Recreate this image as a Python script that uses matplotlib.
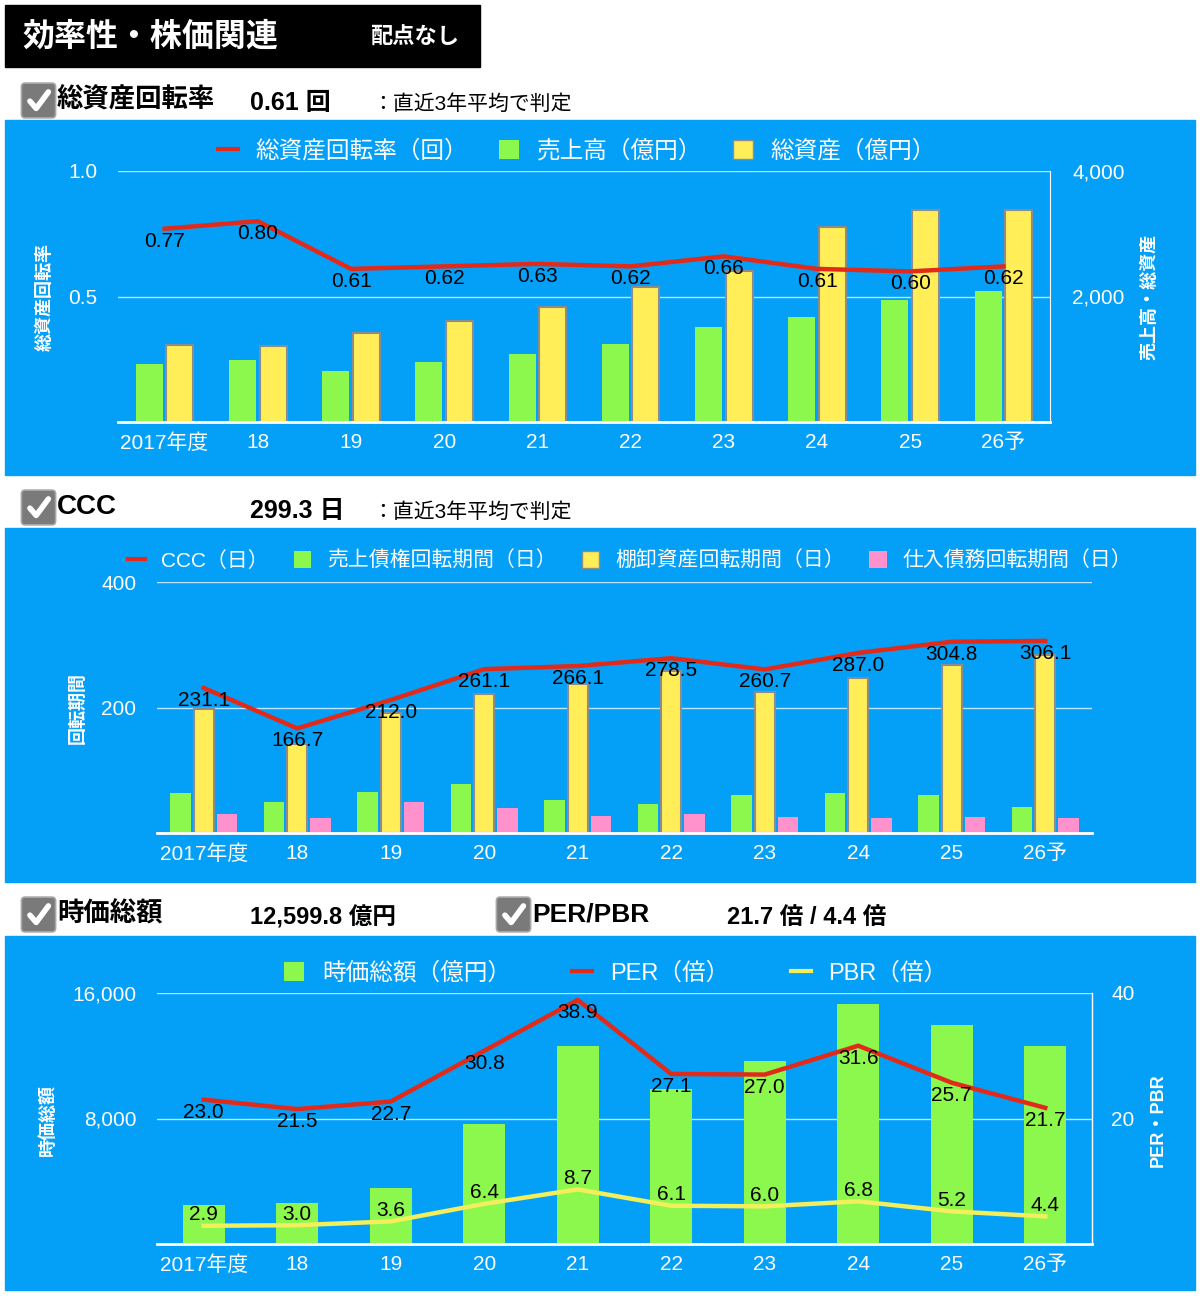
import matplotlib
matplotlib.use("Agg")
import matplotlib.pyplot as plt
import matplotlib.patches as mpatches
from matplotlib.lines import Line2D
import numpy as np

plt.rcParams['font.family'] = ['Liberation Sans', 'Noto Sans CJK JP', 'DejaVu Sans']

# ---- data ----
years = ["2017年度", "18", "19", "20", "21", "22", "23", "24", "25", "26予"]

turnover = [0.77, 0.80, 0.61, 0.62, 0.63, 0.62, 0.66, 0.61, 0.60, 0.62]
sales = [930, 995, 810, 950, 1090, 1245, 1510, 1680, 1950, 2090]
assets = [1230, 1215, 1415, 1615, 1840, 2145, 2405, 3105, 3375, 3385]

ccc = [231.1, 166.7, 212.0, 261.1, 266.1, 278.5, 260.7, 287.0, 304.8, 306.1]
recv_days = [63, 49, 66, 78, 53, 47, 60, 63, 61, 42]
inv_days = [198, 142, 192, 221, 238, 258, 224, 247, 267, 283]
pay_days = [31, 24, 49, 40, 27, 31, 25, 24, 25, 24]

mcap = [2500, 2620, 3580, 7620, 12640, 9880, 11660, 15280, 13990, 12600]
per = [23.0, 21.5, 22.7, 30.8, 38.9, 27.1, 27.0, 31.6, 25.7, 21.7]
pbr = [2.9, 3.0, 3.6, 6.4, 8.7, 6.1, 6.0, 6.8, 5.2, 4.4]

# ---- colors ----
BLUE = "#04A0F8"
GREEN = "#8CF84E"
YELLOW = "#FFEE58"
PINK = "#FF92CC"
RED = "#E22A1A"
PBR_YEL = "#F2EE5C"
EDGE = "#8C8C8C"

W, H = 1200, 1296
fig = plt.figure(figsize=(W / 100, H / 100), dpi=100)
fig.patch.set_facecolor("white")


def fx(x):
    return x / W


def fy(y):
    return 1 - y / H


def px_axes(x0, y0, x1, y1):
    return fig.add_axes([fx(x0), fy(y1), (x1 - x0) / W, (y1 - y0) / H])


def rect(x0, y0, x1, y1, color):
    fig.patches.append(mpatches.Rectangle((fx(x0), fy(y1)), (x1 - x0) / W, (y1 - y0) / H,
                                          transform=fig.transFigure, color=color, zorder=-5))


def checkbox(x0, y0, size=33):
    box = mpatches.FancyBboxPatch((fx(x0 + 3), fy(y0 + size - 3)), (size - 6) / W, (size - 6) / H,
                                  boxstyle="round,pad=0.003", transform=fig.transFigure,
                                  facecolor="#7A7A7A", edgecolor="#A8A8A8", lw=1.2, zorder=2)
    fig.patches.append(box)
    xs = [x0 + 0.24 * size, x0 + 0.43 * size, x0 + 0.80 * size]
    ys = [y0 + 0.52 * size, y0 + 0.74 * size, y0 + 0.24 * size]
    fig.lines.append(Line2D([fx(v) for v in xs], [fy(v) for v in ys], transform=fig.transFigure,
                            color="white", lw=4, solid_capstyle="round", solid_joinstyle="round", zorder=3))


def style(ax, yticks, ylabels):
    ax.set_facecolor("none")
    for s in ax.spines.values():
        s.set_visible(False)
    ax.spines["bottom"].set_visible(True)
    ax.spines["bottom"].set_color("white")
    ax.spines["bottom"].set_linewidth(2)
    ax.set_xlim(-0.5, len(years) - 0.5)
    ax.set_xticks(range(len(years)))
    ax.set_xticklabels(years)
    ax.set_yticks(yticks)
    ax.set_yticklabels(ylabels)
    ax.tick_params(colors="white", length=0, labelsize=15)
    ax.tick_params(axis="x", pad=8)
    ax.tick_params(axis="y", pad=15)
    ax.grid(axis="y", color="white", alpha=0.75, lw=1)
    ax.set_axisbelow(True)


def right_style(ax2, yticks, ylabels):
    for s in ax2.spines.values():
        s.set_visible(False)
    ax2.spines["right"].set_visible(True)
    ax2.spines["right"].set_color("white")
    ax2.spines["right"].set_linewidth(1)
    ax2.set_yticks(yticks)
    ax2.set_yticklabels(ylabels)
    ax2.tick_params(colors="white", length=0, labelsize=15, pad=14)


def legend(handles, labels, cx, cy, fs=16, colsp=1.7):
    fig.legend(handles, labels, loc="center", bbox_to_anchor=(fx(cx), fy(cy)), ncol=len(handles),
               frameon=False, labelcolor="white", fontsize=fs, handlelength=0.85, handleheight=0.85,
               handletextpad=0.75, columnspacing=colsp)


x = np.arange(len(years))

# ---- header ----
rect(5, 5, 480, 67, "black")
fig.text(fx(22), fy(37), "効率性・株価関連", color="white", fontsize=23, weight="bold", va="center")
fig.text(fx(370), fy(38), "配点なし", color="white", fontsize=16, weight="bold", va="center")

# ==== section 1 : total asset turnover ====
checkbox(22, 84)
fig.text(fx(57), fy(100), "総資産回転率", fontsize=19, weight="bold", va="center")
fig.text(fx(250), fy(103), "0.61 回", fontsize=18, weight="bold", va="center")
fig.text(fx(372), fy(104), "：直近3年平均で判定", fontsize=15, va="center")
rect(5, 120, 1195, 475, BLUE)

ax1b = px_axes(118, 171, 1050, 422)
ax1 = ax1b.twinx()
ax1b.set_ylim(0, 4000)
ax1.set_ylim(0, 1.0)
# bars belong to the right axis, line to the left one
ax1b.bar(x - 0.165, sales, width=0.29, color=GREEN, zorder=2)
ax1b.bar(x + 0.165, assets, width=0.29, color=YELLOW, edgecolor=EDGE, lw=1.5, zorder=2)
style(ax1b, [2000, 4000], ["2,000", "4,000"])
ax1b.yaxis.tick_right()
ax1b.tick_params(axis="y", pad=16)
ax1b.spines["right"].set_visible(True)
ax1b.spines["right"].set_color("white")
ax1.set_facecolor("none")
for s in ax1.spines.values():
    s.set_visible(False)
ax1.yaxis.tick_left()
ax1.set_yticks([0.5, 1.0])
ax1.set_yticklabels(["0.5", "1.0"])
ax1.tick_params(colors="white", length=0, labelsize=15, pad=15)
ax1.plot(x, turnover, color=RED, lw=3.2, zorder=3)
for xi, v in zip(x, turnover):
    ax1.annotate(f"{v:.2f}", (xi, v), xytext=(0, -9), textcoords="offset points",
                 ha="center", va="center", fontsize=15)
fig.text(fx(45), fy(297), "総資産回転率", color="white", fontsize=13, weight="bold",
         rotation=90, ha="center", va="center")
fig.text(fx(1150), fy(297), "売上高・総資産", color="white", fontsize=13, weight="bold",
         rotation=90, ha="center", va="center")
legend([Line2D([0], [0], color=RED, lw=3),
        mpatches.Patch(facecolor=GREEN),
        mpatches.Patch(facecolor=YELLOW, edgecolor=EDGE)],
       ["総資産回転率（回）", "売上高（億円）", "総資産（億円）"], 577, 151, fs=17, colsp=1.3)

# ==== section 2 : CCC ====
checkbox(22, 491)
fig.text(fx(57), fy(507), "CCC", fontsize=20, weight="bold", va="center")
fig.text(fx(250), fy(511), "299.3 日", fontsize=18, weight="bold", va="center")
fig.text(fx(372), fy(512), "：直近3年平均で判定", fontsize=15, va="center")
rect(5, 528, 1195, 882, BLUE)

ax2 = px_axes(157, 582, 1092, 833)
ax2.set_ylim(0, 400)
ax2.bar(x - 0.25, recv_days, width=0.22, color=GREEN, zorder=2)
ax2.bar(x, inv_days, width=0.21, color=YELLOW, edgecolor=EDGE, lw=1.5, zorder=2)
ax2.bar(x + 0.25, pay_days, width=0.22, color=PINK, zorder=2)
ax2.plot(x, ccc, color=RED, lw=3.2, zorder=3)
for xi, v in zip(x, ccc):
    ax2.annotate(f"{v:.1f}", (xi, v), xytext=(0, -9), textcoords="offset points",
                 ha="center", va="center", fontsize=15, zorder=4)
style(ax2, [200, 400], ["200", "400"])
fig.text(fx(78), fy(708), "回転期間", color="white", fontsize=13, weight="bold",
         rotation=90, ha="center", va="center")
legend([Line2D([0], [0], color=RED, lw=3),
        mpatches.Patch(facecolor=GREEN),
        mpatches.Patch(facecolor=YELLOW, edgecolor=EDGE),
        mpatches.Patch(facecolor=PINK)],
       ["CCC（日）", "売上債権回転期間（日）", "棚卸資産回転期間（日）", "仕入債務回転期間（日）"],
       630, 561, fs=15, colsp=1.2)

# ==== section 3 : market cap / PER / PBR ====
checkbox(22, 898)
fig.text(fx(57), fy(914), "時価総額", fontsize=19, weight="bold", va="center")
fig.text(fx(250), fy(918), "12,599.8 億円", fontsize=17, weight="bold", va="center")
checkbox(497, 898)
fig.text(fx(532), fy(914), "PER/PBR", fontsize=19, weight="bold", va="center")
fig.text(fx(727), fy(918), "21.7 倍 / 4.4 倍", fontsize=17, weight="bold", va="center")
rect(5, 936, 1195, 1290, BLUE)

ax3 = px_axes(157, 993, 1092, 1244)
ax3.set_ylim(0, 16000)
ax3.bar(x, mcap, width=0.45, color=GREEN, zorder=2)
style(ax3, [8000, 16000], ["8,000", "16,000"])
ax3r = ax3.twinx()
ax3r.set_ylim(0, 40)
right_style(ax3r, [20, 40], ["20", "40"])
ax3r.plot(x, per, color=RED, lw=3.2, zorder=3)
ax3r.plot(x, pbr, color=PBR_YEL, lw=3.2, zorder=3)
for xi, v in zip(x, per):
    ax3r.annotate(f"{v:.1f}", (xi, v), xytext=(0, -9), textcoords="offset points",
                  ha="center", va="center", fontsize=15)
for xi, v in zip(x, pbr):
    ax3r.annotate(f"{v:.1f}", (xi, v), xytext=(0, 8), textcoords="offset points",
                  ha="center", va="center", fontsize=15)
fig.text(fx(48), fy(1120), "時価総額", color="white", fontsize=13, weight="bold",
         rotation=90, ha="center", va="center")
fig.text(fx(1158), fy(1120), "PER・PBR", color="white", fontsize=13, weight="bold",
         rotation=90, ha="center", va="center")
legend([mpatches.Patch(facecolor=GREEN),
        Line2D([0], [0], color=RED, lw=3),
        Line2D([0], [0], color=PBR_YEL, lw=3)],
       ["時価総額（億円）", "PER（倍）", "PBR（倍）"], 616, 973, fs=17, colsp=2.6)

fig.savefig("out.png", dpi=100)
